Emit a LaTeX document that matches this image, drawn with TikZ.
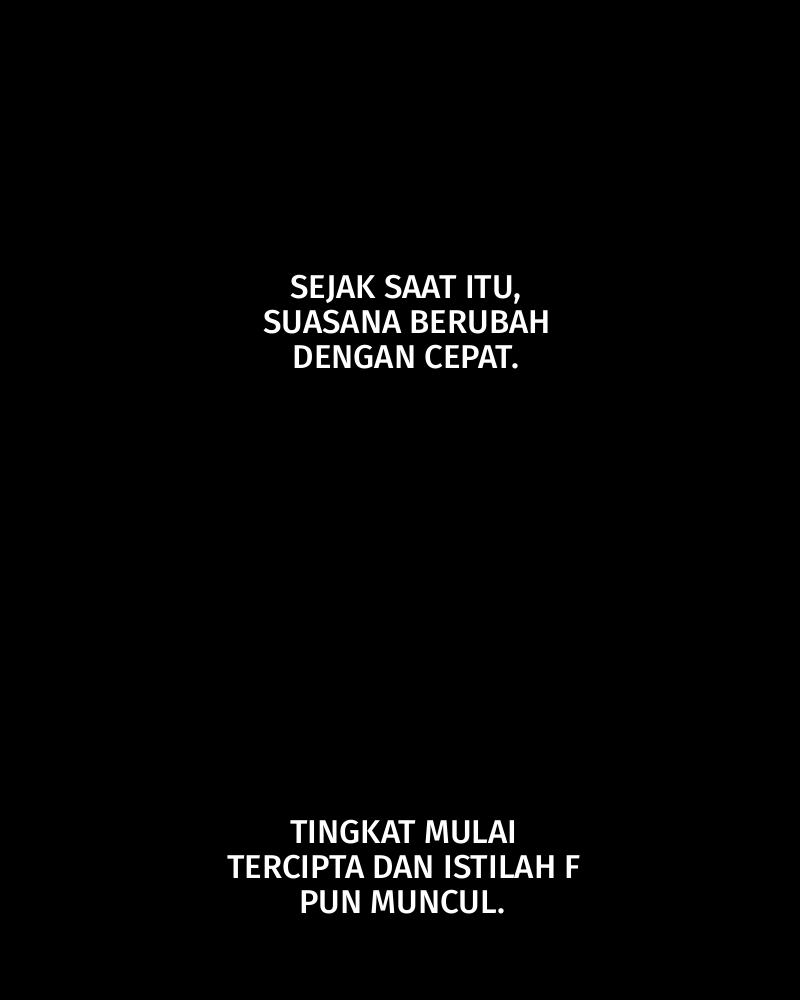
\documentclass[tikz,border=0pt]{standalone}
\usepackage{fontspec}
\setmainfont{Fira Sans}[UprightFont=* Medium]
\begin{document}
\begin{tikzpicture}[x=1pt,y=-1pt,
  caption/.style={text=white,anchor=base,inner sep=0pt,font=\fontsize{33}{35}\selectfont}]
\fill[black] (0,0) rectangle (800,1000);
\useasboundingbox (0,0) rectangle (800,1000);
\node[caption] (a1) at (406,298) {SEJAK SAAT ITU,};
\node[caption] (a2) at (407,333) {SUASANA BERUBAH};
\node[caption] (a3) at (406,368) {DENGAN CEPAT.};
\node[caption] (b1) at (404,843) {TINGKAT MULAI};
\node[caption] (b2) at (404,878) {TERCIPTA DAN ISTILAH F};
\node[caption] (b3) at (402,913) {PUN MUNCUL.};
\end{tikzpicture}
\end{document}
